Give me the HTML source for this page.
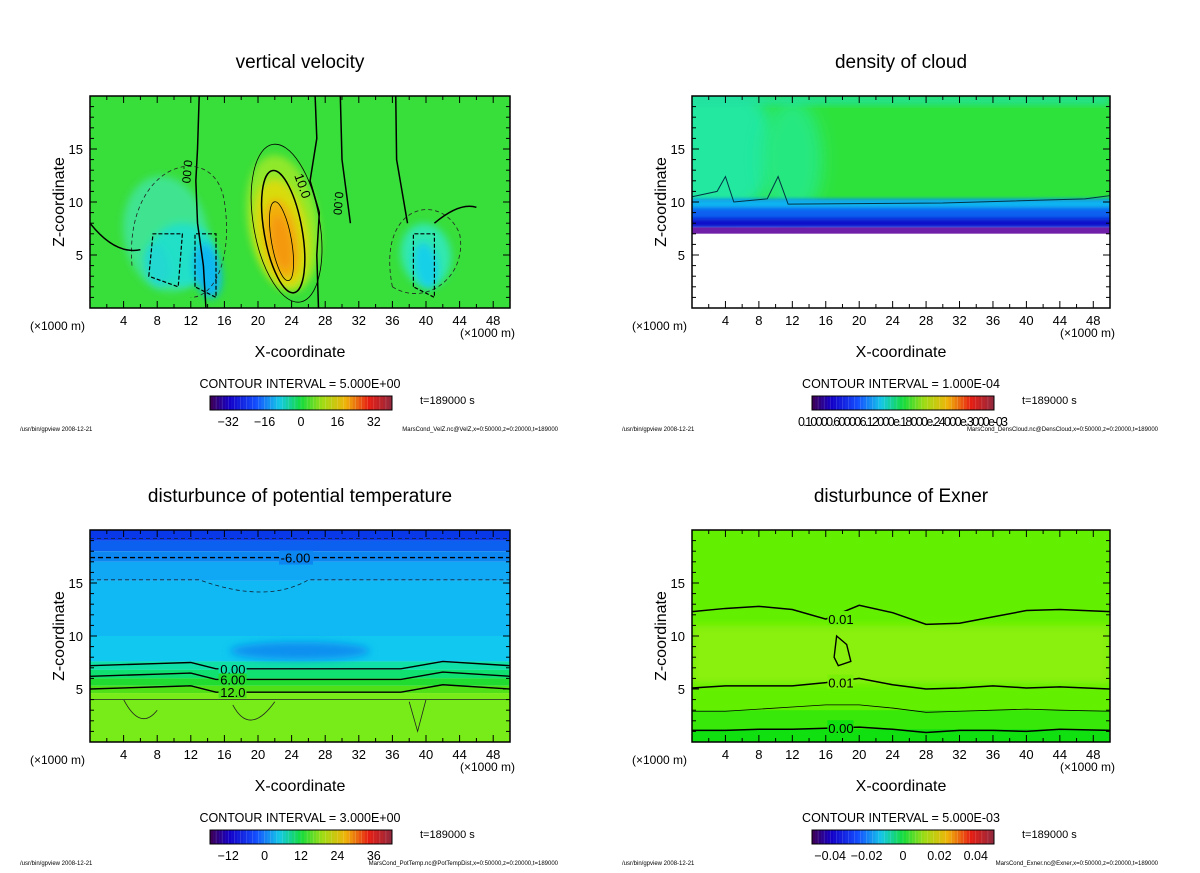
<!DOCTYPE html>
<html><head><meta charset="utf-8">
<style>
html,body{margin:0;padding:0;background:#fff;}
svg text{font-family:"Liberation Sans",sans-serif;fill:#000;}
</style></head>
<body>
<svg id="fig" width="1200" height="868" viewBox="0 0 1200 868" xmlns="http://www.w3.org/2000/svg">
<defs>
<filter id="blur8" x="-50%" y="-50%" width="200%" height="200%"><feGaussianBlur stdDeviation="8"/></filter>
<filter id="blur4" x="-50%" y="-50%" width="200%" height="200%"><feGaussianBlur stdDeviation="4"/></filter>
<filter id="blur2" x="-50%" y="-50%" width="200%" height="200%"><feGaussianBlur stdDeviation="2"/></filter>
<clipPath id="c0"><rect x="90" y="96" width="420" height="212"/></clipPath>
<clipPath id="c1"><rect x="692" y="96" width="418" height="212"/></clipPath>
<clipPath id="c2"><rect x="90" y="530" width="420" height="212"/></clipPath>
<clipPath id="c3"><rect x="692" y="530" width="418" height="212"/></clipPath>
</defs>
</svg>
<script>
// ---- data ----
const xTicks=[4,8,12,16,20,24,28,32,36,40,44,48];
const zTicks=[5,10,15];
const titles=["vertical velocity","density of cloud","disturbunce of potential temperature","disturbunce of Exner"];
const intervals=["CONTOUR INTERVAL = 5.000E+00","CONTOUR INTERVAL = 1.000E-04","CONTOUR INTERVAL = 3.000E+00","CONTOUR INTERVAL = 5.000E-03"];
const cbLabels=[["-32","-16","0","16","32"],["0.10000.600006.12000e.18000e.24000e.3000e-03"],["-12","0","12","24","36"],["-0.04","-0.02","0","0.02","0.04"]];
const cbLabelPos=[[-32,-16,0,16,32],[0],[-12,0,12,24,36],[-0.04,-0.02,0,0.02,0.04]];
const cbRange=[[-40,40],[0,1],[-18,42],[-0.05,0.05]];
const files=["MarsCond_VelZ.nc@VelZ,x=0:50000,z=0:20000,t=189000","MarsCond_DensCloud.nc@DensCloud,x=0:50000,z=0:20000,t=189000","MarsCond_PotTemp.nc@PotTempDist,x=0:50000,z=0:20000,t=189000","MarsCond_Exner.nc@Exner,x=0:50000,z=0:20000,t=189000"];
// vertical velocity blobs: [x km, z km, rx km, rz km, color]
const velBlobs=[[9,7,5,5.5,"#40e490"],[11,5,4,3,"#20e0c8"],[14,3.5,1.6,2.6,"#10b8f0"],[8,4,1.5,2,"#20d8d0"],[40,5,3,3,"#30e8b0"],[40,4,1.4,2.2,"#18d0e8"],[23,8,4.2,6.5,"#90e82a"],[22.8,7,3.2,5.2,"#d8dc10"],[22.8,6.5,2,3.8,"#f2b008"],[22.8,6.2,1.1,2.6,"#f4980a"]];
// velocity contour lines
const velZero1=[[13.8,0],[13.5,4],[12.8,8],[12.6,12],[12.8,15],[13,20]];
const velZero2=[[27.2,0],[27,5],[27.3,9],[26.2,12],[27,16],[26.8,20]];
const velZero3=[[31,8],[30,14],[29.8,20]];
const velZero4=[[37.8,8],[36.5,14],[36.4,20]];
// potential temperature layer boundaries (z km)
const ptLayers=[[19,"#0838e8"],[18,"#0c60f0"],[17,"#0c86f0"],[15.2,"#10a8f4"],[10,"#10b8f4"],[7.6,"#10c8f0"],[6.8,"#10e0a8"],[6,"#10e070"],[5.3,"#20dc30"],[4.6,"#50e018"],[0,"#78ec18"]];
const ptLines=[[7.2,6.9],[6.2,5.9],[5.0,4.7]];
// exner contours (z km across x)
const exX=[0,4,8,12,16,20,24,28,32,36,40,44,50];
const ex1=[12.3,12.6,12.8,12.5,11.6,12.9,12.2,11.1,11.2,11.8,12.4,12.5,12.3];
const ex2=[5.1,5.3,5.3,5.3,5.6,6,5.4,5,5.1,5.3,5.1,5.2,5];
const ex3=[2.9,2.9,3.1,3.3,3.5,3.5,3.2,2.8,2.9,3.0,3.1,3.0,2.9];
const ex4=[1.1,1.1,1.2,1.2,1.3,1.4,1.2,0.9,1.1,1.1,1.0,1.2,1.1];

// ---- helpers ----
const NS="http://www.w3.org/2000/svg";
const svg=document.getElementById('fig');
function el(tag,attrs,parent,txt){const e=document.createElementNS(NS,tag);for(const k in attrs)e.setAttribute(k,attrs[k]);if(txt!==undefined)e.textContent=txt;(parent||svg).appendChild(e);return e;}
const panels=[{x:90,y:96,w:420,h:212},{x:692,y:96,w:418,h:212},{x:90,y:530,w:420,h:212},{x:692,y:530,w:418,h:212}];
function sx(p,x){return p.x+x/50*p.w;}
function sz(p,z){return p.y+p.h-z/20*p.h;}
function rainbow(t){const stops=[[0,[60,0,90]],[0.1,[20,0,200]],[0.25,[20,80,255]],[0.38,[20,200,230]],[0.5,[20,220,60]],[0.62,[160,220,20]],[0.75,[240,180,10]],[0.88,[230,30,20]],[1,[150,40,60]]];for(let i=1;i<stops.length;i++){if(t<=stops[i][0]){const a=stops[i-1],b=stops[i];const f=(t-a[0])/(b[0]-a[0]);return 'rgb('+a[1].map((v,j)=>Math.round(v+(b[1][j]-v)*f)).join(',')+')';}}return 'rgb(150,40,60)';}

panels.forEach((p,i)=>{
  const g=el('g',{'clip-path':'url(#c'+i+')'});
  
  
  if(i===0){
    el('rect',{x:p.x,y:p.y,width:p.w,height:p.h,fill:'#38de3a'},g);
    velBlobs.forEach(b=>{const e=el('ellipse',{cx:sx(p,b[0]),cy:sz(p,b[1]),rx:b[2]/50*p.w,ry:b[3]/20*p.h,fill:b[4],filter:'url(#blur4)',transform:'rotate(-10 '+sx(p,b[0])+' '+sz(p,b[1])+')'},g);
      
      });
    [velZero1,velZero2,velZero3,velZero4].forEach(l=>{el('polyline',{points:l.map(q=>sx(p,q[0])+','+sz(p,q[1])).join(' '),fill:'none',stroke:'#000','stroke-width':1.5},g);});
    const c=(x,z)=>sx(p,x)+' '+sz(p,z);
    el('ellipse',{cx:sx(p,22.8),cy:sz(p,6.3),rx:10,ry:40,fill:'none',stroke:'#000','stroke-width':0.8,transform:'rotate(-10 '+sx(p,22.8)+' '+sz(p,6.3)+')'},g);
    el('ellipse',{cx:sx(p,23),cy:sz(p,7.2),rx:19,ry:62,fill:'none',stroke:'#000','stroke-width':1.5,transform:'rotate(-10 '+sx(p,23)+' '+sz(p,7.2)+')'},g);
    el('ellipse',{cx:sx(p,23.4),cy:sz(p,8),rx:33,ry:80,fill:'none',stroke:'#000','stroke-width':0.8,transform:'rotate(-10 '+sx(p,23.4)+' '+sz(p,8)+')'},g);
    el('path',{d:'M'+c(5,4)+' C'+c(4,14)+' '+c(15,16)+' '+c(16,10)+' C'+c(17,5)+' '+c(15,1)+' '+c(12,1),fill:'none',stroke:'#222','stroke-width':0.8,'stroke-dasharray':'4,3'},g);
    el('path',{d:'M'+c(36,2)+' C'+c(34,10)+' '+c(42,11)+' '+c(44,7)+' C'+c(45,3)+' '+c(40,0)+' '+c(36,2),fill:'none',stroke:'#222','stroke-width':0.8,'stroke-dasharray':'4,3'},g);
    el('path',{d:'M'+c(7,3)+' L'+c(7.5,7)+' L'+c(11,7)+' L'+c(10.5,2)+'Z M'+c(12.5,2)+' L'+c(12.5,7)+' L'+c(15,7)+' L'+c(15,1)+'Z M'+c(38.5,2)+' L'+c(38.5,7)+' L'+c(41,7)+' L'+c(41,1)+'Z',fill:'none',stroke:'#000','stroke-width':1.2,'stroke-dasharray':'4,2'},g);
    el('path',{d:'M'+c(0,8)+' Q'+c(3,5)+' '+c(6,5.5)+' M'+c(41,8)+' Q'+c(44,10)+' '+c(46,9.5),fill:'none',stroke:'#000','stroke-width':1.5},g);
    el('text',{x:sx(p,24.3),y:sz(p,12.5),'font-size':13,transform:'rotate(70 '+sx(p,24.3)+' '+sz(p,12.5)+')'},g,'10.0');
    el('text',{x:sx(p,11.2),y:sz(p,14),'font-size':12,transform:'rotate(95 '+sx(p,11.2)+' '+sz(p,14)+')'},g,'0.00');
    el('text',{x:sx(p,29.2),y:sz(p,11),'font-size':12,transform:'rotate(95 '+sx(p,29.2)+' '+sz(p,11)+')'},g,'0.00');
  } else if(i===1){
    el('rect',{x:p.x,y:p.y,width:p.w,height:sz(p,9)-p.y,fill:'#2ee23c'},g);
    el('ellipse',{cx:sx(p,3),cy:sz(p,15),rx:60,ry:70,fill:'#20e8a0',filter:'url(#blur8)'},g);
    el('ellipse',{cx:sx(p,12),cy:sz(p,14),rx:30,ry:60,fill:'#28e880',filter:'url(#blur8)'},g);
    el('rect',{x:p.x,y:p.y,width:p.w,height:8,fill:'#20e0a0',filter:'url(#blur4)'},g);
    el('rect',{x:p.x-5,y:sz(p,10.2),width:p.w+10,height:sz(p,7.6)-sz(p,10.2),fill:'#1060f0',filter:'url(#blur2)'},g);
    el('rect',{x:p.x-5,y:sz(p,10.2),width:p.w+10,height:8,fill:'#10b8f0',filter:'url(#blur2)'},g);
    el('rect',{x:p.x-5,y:sz(p,8.4),width:p.w+10,height:sz(p,7.6)-sz(p,8.4),fill:'#1010c8',filter:'url(#blur2)'},g);
    el('rect',{x:p.x,y:sz(p,7.6),width:p.w,height:sz(p,7.0)-sz(p,7.6),fill:'#7020a8'},g);
    el('rect',{x:p.x,y:sz(p,7.0),width:p.w,height:sz(p,0)-sz(p,7.0)+2,fill:'#fff'},g);
    el('path',{d:'M'+sx(p,0)+','+sz(p,10.5)+' L'+sx(p,3)+','+sz(p,11)+' L'+sx(p,4)+','+sz(p,12.4)+' L'+sx(p,5)+','+sz(p,10)+' L'+sx(p,9)+','+sz(p,10.3)+' L'+sx(p,10.3)+','+sz(p,12.4)+' L'+sx(p,11.5)+','+sz(p,9.8)+' L'+sx(p,30)+','+sz(p,9.9)+' L'+sx(p,47)+','+sz(p,10.3)+' L'+sx(p,50)+','+sz(p,10.6),fill:'none',stroke:'#034','stroke-width':1},g);
  } else if(i===2){
    let prev=20;
    ptLayers.forEach(L=>{el('rect',{x:p.x,y:sz(p,prev),width:p.w,height:sz(p,L[0])-sz(p,prev),fill:L[1]},g);prev=L[0];});
    el('rect',{x:p.x,y:sz(p,4.6),width:p.w,height:sz(p,0)-sz(p,4.6),fill:'#78ec18'},g);
    el('ellipse',{cx:sx(p,25),cy:sz(p,8.6),rx:70,ry:9,fill:'#1090f0',filter:'url(#blur4)'},g);
    el('line',{x1:p.x,x2:p.x+p.w,y1:sz(p,19.2),y2:sz(p,19.2),stroke:'#123','stroke-width':0.8,'stroke-dasharray':'4,3'},g);
    el('line',{x1:p.x,x2:p.x+p.w,y1:sz(p,17.4),y2:sz(p,17.4),stroke:'#000','stroke-width':1.4,'stroke-dasharray':'5,3'},g);
    el('rect',{x:sx(p,22.5),y:sz(p,17.4)-7,width:34,height:14,fill:'#0c86f0'},g);
    el('text',{x:sx(p,22.7),y:sz(p,17.4)+5,'font-size':13},g,'-6.00');
    el('path',{d:'M'+p.x+','+sz(p,15.3)+' L'+sx(p,13)+','+sz(p,15.3)+' Q'+sx(p,21)+','+sz(p,13)+' '+sx(p,26)+','+sz(p,15.3)+' L'+(p.x+p.w)+','+sz(p,15.3),fill:'none',stroke:'#123','stroke-width':0.8,'stroke-dasharray':'4,3'},g);
    ptLines.forEach(l=>{el('path',{d:'M'+p.x+','+sz(p,l[0])+' L'+sx(p,8)+','+sz(p,l[0]+0.2)+' L'+sx(p,12)+','+sz(p,l[1]+0.6)+' L'+sx(p,15)+','+sz(p,l[1])+' L'+sx(p,37)+','+sz(p,l[1])+' L'+sx(p,42)+','+sz(p,l[0]+0.4)+' L'+(p.x+p.w)+','+sz(p,l[0]),fill:'none',stroke:'#000','stroke-width':1.4},g);});
    [['0.00',6.9,'#10e0a8'],['6.00',5.9,'#20dc30'],['12.0',4.7,'#50e018']].forEach(t=>{el('rect',{x:sx(p,15.3),y:sz(p,t[1])-6,width:28,height:12,fill:t[2]},g);el('text',{x:sx(p,15.5),y:sz(p,t[1])+5,'font-size':13},g,t[0]);});
    el('path',{d:'M'+sx(p,4)+','+sz(p,4)+' Q'+sx(p,6)+','+sz(p,1)+' '+sx(p,8)+','+sz(p,3)+' M'+sx(p,17)+','+sz(p,3.5)+' Q'+sx(p,19)+','+sz(p,0.5)+' '+sx(p,22)+','+sz(p,3.8)+' M'+sx(p,38)+','+sz(p,3.8)+' L'+sx(p,39)+','+sz(p,1)+' L'+sx(p,40)+','+sz(p,4)+' M'+p.x+','+sz(p,4)+' L'+(p.x+p.w)+','+sz(p,4),fill:'none',stroke:'#222','stroke-width':0.8},g);
  } else {
    el('rect',{x:p.x,y:p.y,width:p.w,height:p.h,fill:'#62f000'},g);
    el('rect',{x:p.x,y:sz(p,11),width:p.w,height:sz(p,5.5)-sz(p,11),fill:'#8af00a',filter:'url(#blur4)'},g);
    el('rect',{x:p.x,y:sz(p,3),width:p.w,height:sz(p,0)-sz(p,3),fill:'#38e808'},g);
    el('rect',{x:p.x,y:sz(p,1.2),width:p.w,height:sz(p,0)-sz(p,1.2),fill:'#10e010'},g);
    [ex1,ex2,ex3,ex4].forEach((arr,k)=>{const pl=el('polyline',{points:arr.map((z,j)=>sx(p,exX[j])+','+sz(p,z)).join(' '),fill:'none',stroke:'#000','stroke-width':k===2?0.8:1.5},g);
      
      });
    const k3col=z=>z<1.5?'#10e010':z<6?'#7af008':'#62f000';
    [['0.01',ex1[4]],['0.01',ex2[4]],['0.00',ex4[4]]].forEach(t=>{el('rect',{x:sx(p,16.2),y:sz(p,t[1])-8,width:26,height:14,fill:k3col(t[1])},g);el('text',{x:sx(p,16.3),y:sz(p,t[1])+5,'font-size':13},g,t[0]);});
    el('path',{d:'M'+sx(p,17.3)+','+sz(p,10)+' L'+sx(p,18.5)+','+sz(p,9.2)+' L'+sx(p,19)+','+sz(p,7.6)+' L'+sx(p,17.5)+','+sz(p,7.2)+' L'+sx(p,17)+','+sz(p,8)+'Z',fill:'none',stroke:'#000','stroke-width':1.4},g);
  }
  const fr=el('rect',{x:p.x,y:p.y,width:p.w,height:p.h,fill:'none',stroke:'#000','stroke-width':1.5});
  
  
  for(let x=2;x<50;x+=2){const L=(x%4===0)?7:4;el('line',{x1:sx(p,x),x2:sx(p,x),y1:p.y+p.h,y2:p.y+p.h-L,stroke:'#000'});el('line',{x1:sx(p,x),x2:sx(p,x),y1:p.y,y2:p.y+L,stroke:'#000'});}
  for(let z=1;z<20;z++){const L=(z%5===0)?7:4;el('line',{x1:p.x,x2:p.x+L,y1:sz(p,z),y2:sz(p,z),stroke:'#000'});el('line',{x1:p.x+p.w,x2:p.x+p.w-L,y1:sz(p,z),y2:sz(p,z),stroke:'#000'});}
  xTicks.forEach(x=>{const t=el('text',{x:sx(p,x),y:p.y+p.h+17,'font-size':13,'text-anchor':'middle'},null,String(x));
    
    });
  zTicks.forEach(z=>{const t=el('text',{x:p.x-7,y:sz(p,z)+5,'font-size':13,'text-anchor':'end'},null,String(z));
    
    });
  el('text',{x:p.x-60,y:p.y+p.h+22,'font-size':12},null,'(×1000 m)');
  el('text',{x:p.x+p.w+5,y:p.y+p.h+29,'font-size':12,'text-anchor':'end'},null,'(×1000 m)');
  const xt=el('text',{x:p.x+p.w/2,y:p.y+p.h+49,'font-size':16,'text-anchor':'middle'},null,'X-coordinate');
  
  
  const zt=el('text',{x:p.x-26,y:p.y+p.h/2,'font-size':16,'text-anchor':'middle',transform:'rotate(-90 '+(p.x-26)+' '+(p.y+p.h/2)+')'},null,'Z-coordinate');
  
  
  const tt=el('text',{x:p.x+p.w/2,y:p.y-28,'font-size':19,'text-anchor':'middle'},null,titles[i]);
  
  
  el('text',{x:p.x+p.w/2,y:p.y+p.h+80,'font-size':12.5,'text-anchor':'middle'},null,intervals[i]);
  const cb0=p.x+120, cbw=182, cby=p.y+p.h+88;
  const cbg=el('g',{});
  
  
  const n=60;
  for(let k=0;k<n;k++){el('rect',{x:cb0+k*cbw/n,y:cby,width:cbw/n+0.3,height:14,fill:rainbow(k/(n-1)),stroke:(k%2?'none':'rgba(255,255,255,0.25)'),'stroke-width':0.5},cbg);}
  el('rect',{x:cb0,y:cby,width:cbw,height:14,fill:'none',stroke:'#000'},cbg);
  const r=cbRange[i];
  if(i===1){el('text',{x:cb0+cbw/2,y:cby+30,'font-size':12.5,'text-anchor':'middle',textLength:210},null,cbLabels[1][0]);}
  else cbLabels[i].forEach((lb,k)=>{el('text',{x:cb0+(cbLabelPos[i][k]-r[0])/(r[1]-r[0])*cbw,y:cby+30,'font-size':12.5,'text-anchor':'middle'},null,lb.replace('-','−'));});
  el('text',{x:p.x+330,y:cby+8,'font-size':11,fill:'#333'},null,'t=189000 s');
  el('text',{x:p.x-70,y:cby+35,'font-size':6},null,'/usr/bin/gpview  2008-12-21');
  el('text',{x:p.x+p.w+48,y:cby+35,'font-size':6,'text-anchor':'end'},null,files[i]);
});
</script>
</body></html>
